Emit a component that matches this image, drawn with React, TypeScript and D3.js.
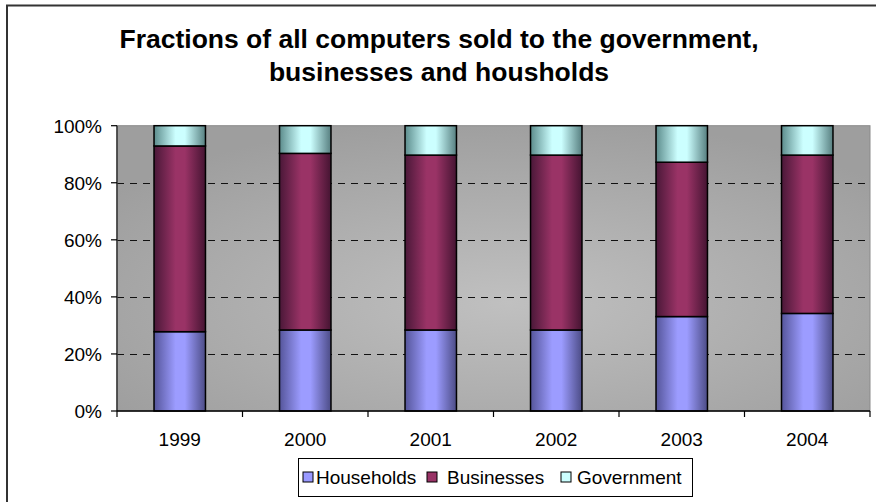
import React from "react";
import * as d3 from "d3";

const years = ["1999", "2000", "2001", "2002", "2003", "2004"];
const households = [27.8, 28.4, 28.4, 28.4, 33.1, 34.2];
const businesses = [65.1, 61.9, 61.3, 61.3, 54.1, 55.5];
const government = [7.1, 9.7, 10.3, 10.3, 12.8, 10.3];
const yTicks = [0, 20, 40, 60, 80, 100];
const seriesNames = ["Households", "Businesses", "Government"];
const titleLines = [
  "Fractions of all computers sold to the government,",
  "businesses and housholds",
];

const W = 876;
const H = 502;
const plot = { left: 117, right: 870, top: 125.7, bottom: 411 };
const FONT = "'Liberation Sans', Arial, sans-serif";

const colors = [
  { dark1: "#55559a", light: "#9c9cff", dark2: "#4c4c86", flat: "#9999ff" },
  { dark1: "#4a1838", light: "#9a3366", dark2: "#451432", flat: "#993366" },
  { dark1: "#5c8c8c", light: "#ccffff", dark2: "#577f80", flat: "#ccffff" },
];

export default function App() {
  const x = d3
    .scaleBand<string>()
    .domain(years)
    .range([plot.left, plot.right])
    .paddingInner(0)
    .paddingOuter(0);
  const y = d3.scaleLinear().domain([0, 100]).range([plot.bottom, plot.top]);
  const bw = x.bandwidth() * 0.41;

  const rows = years.map((yr, i) => ({
    year: yr,
    Households: households[i],
    Businesses: businesses[i],
    Government: government[i],
  }));
  const stack = d3.stack<any>().keys(seriesNames)(rows);

  const boundaries = [...years.map((yr) => x(yr) as number), plot.right];

  const legendItems = [
    { name: "Households", sx: 303, tx: 316 },
    { name: "Businesses", sx: 427, tx: 447 },
    { name: "Government", sx: 561, tx: 577 },
  ];

  return (
    <svg
      width={W}
      height={H}
      style={{ position: "absolute", left: 0, top: 0, background: "#fff" }}
      fontFamily={FONT}
    >
      <defs>
        <radialGradient id="bg" cx="0.52" cy="0.62" r="0.65" fx="0.52" fy="0.62">
          <stop offset="0%" stopColor="#c0c0c0" />
          <stop offset="100%" stopColor="#9e9e9e" />
        </radialGradient>
        {colors.map((c, i) => (
          <linearGradient key={i} id={`g${i}`} x1="0" x2="1" y1="0" y2="0">
            <stop offset="0%" stopColor={c.dark1} />
            <stop offset="42%" stopColor={c.light} />
            <stop offset="60%" stopColor={c.light} />
            <stop offset="100%" stopColor={c.dark2} />
          </linearGradient>
        ))}
      </defs>

      {/* outer chart border */}
      <rect x={7} y={5.5} width={W + 20} height={H + 20} fill="#fff" stroke="#333" strokeWidth={2} />

      {/* title */}
      {titleLines.map((t, i) => (
        <text
          key={i}
          x={439}
          y={48 + i * 33}
          textAnchor="middle"
          fontWeight="bold"
          fontSize={26.5}
          fill="#000"
        >
          {t}
        </text>
      ))}

      {/* plot background */}
      <rect
        x={plot.left}
        y={plot.top}
        width={plot.right - plot.left}
        height={plot.bottom - plot.top}
        fill="url(#bg)"
        stroke="#8a8a8a"
        strokeWidth={1}
      />

      {/* gridlines */}
      {yTicks
        .filter((t) => t > 0 && t < 100)
        .map((t) => (
          <line
            key={t}
            x1={plot.left}
            x2={plot.right}
            y1={Math.round(y(t)) + 0.5}
            y2={Math.round(y(t)) + 0.5}
            stroke="#111"
            strokeWidth={1}
            strokeDasharray="7,6"
          />
        ))}

      {/* bars */}
      {stack.map((s, si) =>
        s.map((d, i) => {
          const cx = (x(years[i]) as number) + x.bandwidth() / 2;
          return (
            <rect
              key={`${si}-${i}`}
              x={cx - bw / 2}
              y={y(d[1])}
              width={bw}
              height={y(d[0]) - y(d[1])}
              fill={`url(#g${si})`}
              stroke="#000"
              strokeWidth={1.5}
            />
          );
        })
      )}

      {/* y axis */}
      <line x1={plot.left} x2={plot.left} y1={plot.top} y2={plot.bottom} stroke="#333" strokeWidth={1.5} />
      {yTicks.map((t) => (
        <g key={t}>
          <line x1={plot.left - 6} x2={plot.left} y1={y(t)} y2={y(t)} stroke="#000" strokeWidth={1.2} />
          <text x={102} y={y(t)} dy="0.36em" textAnchor="end" fontSize={19} fill="#000">
            {t}%
          </text>
        </g>
      ))}

      {/* x axis */}
      <line x1={plot.left} x2={plot.right} y1={plot.bottom} y2={plot.bottom} stroke="#000" strokeWidth={1.5} />
      {boundaries.map((b, i) => (
        <line key={i} x1={b} x2={b} y1={plot.bottom} y2={plot.bottom + 6} stroke="#000" strokeWidth={1.2} />
      ))}
      {years.map((yr) => (
        <text
          key={yr}
          x={(x(yr) as number) + x.bandwidth() / 2}
          y={446}
          textAnchor="middle"
          fontSize={19}
          fill="#000"
        >
          {yr}
        </text>
      ))}

      {/* legend */}
      <rect x={298.5} y={458.5} width={394} height={38} fill="#fff" stroke="#000" strokeWidth={1} />
      {legendItems.map((it, i) => (
        <g key={it.name}>
          <rect x={it.sx} y={472} width={10} height={10} fill={colors[i].flat} stroke="#000" strokeWidth={1} />
          <text x={it.tx} y={484} fontSize={19} fill="#000">
            {it.name}
          </text>
        </g>
      ))}
    </svg>
  );
}
